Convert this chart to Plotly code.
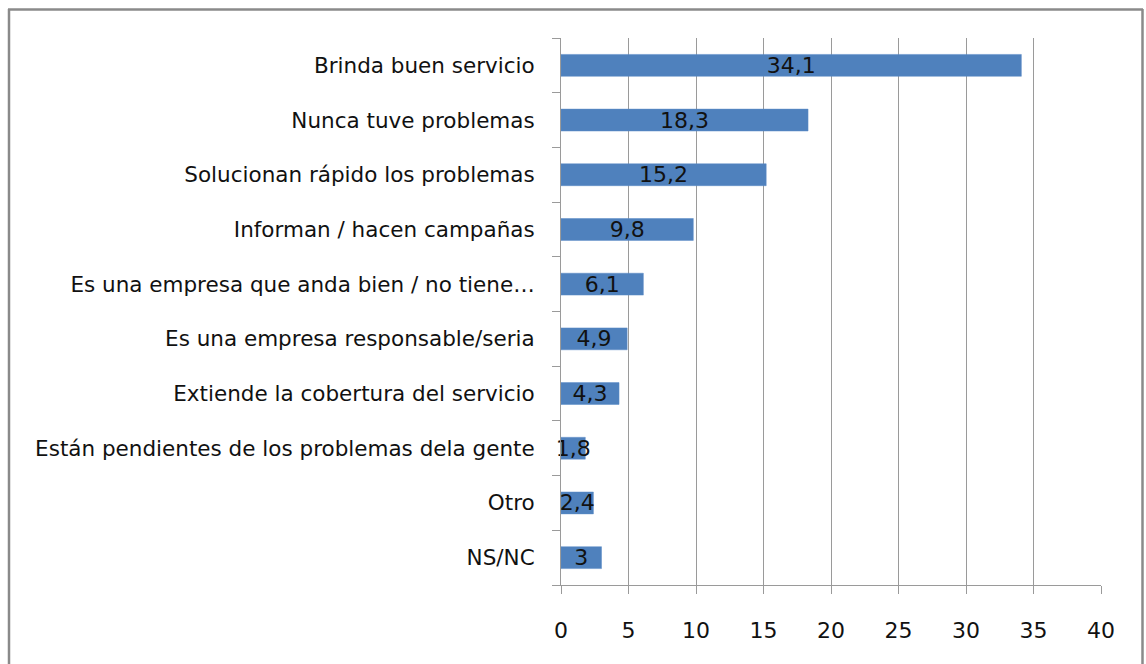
import plotly.graph_objects as go

categories = [
    "Brinda buen servicio",
    "Nunca tuve problemas",
    "Solucionan rápido los problemas",
    "Informan / hacen campañas",
    "Es una empresa que anda bien / no tiene…",
    "Es una empresa responsable/seria",
    "Extiende la cobertura del servicio",
    "Están pendientes de los problemas dela gente",
    "Otro",
    "NS/NC",
]
values = [34.1, 18.3, 15.2, 9.8, 6.1, 4.9, 4.3, 1.8, 2.4, 3]
labels = ["34,1", "18,3", "15,2", "9,8", "6,1", "4,9", "4,3", "1,8", "2,4", "3"]
x_ticks = [0, 5, 10, 15, 20, 25, 30, 35, 40]

W, H = 1146, 664
ml, mr, mt, mb = 561, 45, 38, 79
font_family = "DejaVu Sans, Open Sans, sans-serif"
FS = 21.5

fig = go.Figure(go.Bar(
    y=categories,
    x=values,
    orientation="h",
    marker=dict(color="#4F81BD", line=dict(color="#5B8BC6", width=0.5)),
    text=labels,
    textposition="inside",
    insidetextanchor="middle",
    constraintext="none",
    textangle=0,
    textfont=dict(color="#111111", size=22, family=font_family),
    cliponaxis=False,
    hoverinfo="skip",
))

pw = W - ml - mr
ph = H - mt - mb
def px_x(p):
    return (p - ml) / pw
def px_y(p):
    return 1 - (p - mt) / ph

fig.update_layout(
    width=W, height=H,
    margin=dict(l=ml, r=mr, t=mt, b=mb),
    paper_bgcolor="white",
    plot_bgcolor="white",
    bargap=0.6,
    showlegend=False,
    font=dict(family=font_family, size=FS, color="#111111"),
    xaxis=dict(
        range=[0, 40],
        tickvals=x_ticks,
        ticktext=[str(v) for v in x_ticks],
        showgrid=True,
        gridcolor="#9a9a9a",
        gridwidth=1,
        zeroline=False,
        showline=True,
        linecolor="#9a9a9a",
        linewidth=1,
        ticks="outside",
        ticklen=8,
        tickcolor="#9a9a9a",
        ticklabelstandoff=18,
        tickfont=dict(size=22, color="#111111"),
        fixedrange=True,
    ),
    yaxis=dict(
        categoryorder="array",
        categoryarray=categories[::-1],
        autorange=False,
        range=[-0.5, len(categories) - 0.5],
        showline=True,
        linecolor="#9a9a9a",
        linewidth=1,
        ticks="outside",
        tickson="boundaries",
        ticklen=8,
        tickcolor="#9a9a9a",
        ticklabelstandoff=21,
        showgrid=False,
        tickfont=dict(size=FS, color="#111111"),
        fixedrange=True,
    ),
    shapes=[
        dict(type="line", xref="paper", yref="paper",
             x0=px_x(9), x1=px_x(9), y0=px_y(9), y1=px_y(H + 5),
             line=dict(color="#8a8a8a", width=2.5)),
        dict(type="line", xref="paper", yref="paper",
             x0=px_x(8), x1=px_x(1143), y0=px_y(9.5), y1=px_y(9.5),
             line=dict(color="#8a8a8a", width=2.5)),
        dict(type="line", xref="paper", yref="paper",
             x0=px_x(1142.5), x1=px_x(1142.5), y0=px_y(9), y1=px_y(H + 5),
             line=dict(color="#8a8a8a", width=2.5)),
    ],
)

fig.write_html(
    "out.html",
    config={"displayModeBar": False, "staticPlot": True},
    post_script="document.body.style.margin='0';document.body.style.overflow='hidden';",
)
